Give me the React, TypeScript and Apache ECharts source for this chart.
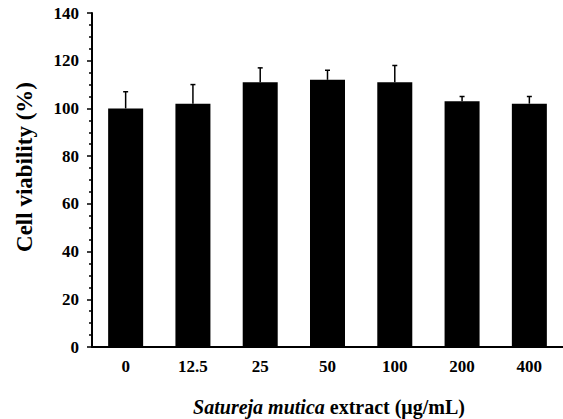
import React, { useEffect, useRef } from "react";
import * as echarts from "echarts";

const categories = ["0", "12.5", "25", "50", "100", "200", "400"];
const viability = [100, 102, 111, 112, 111, 103, 102];
const errors = [7, 8, 6, 4, 7, 2, 3];
const yTicks = { min: 0, max: 140, interval: 20 };

const FONT = "'Liberation Serif', 'Times New Roman', serif";

export default function App() {
  const ref = useRef<HTMLDivElement>(null);
  useEffect(() => {
    if (!ref.current) return;
    const chart = echarts.init(ref.current, null, { renderer: "svg" });
    const errData = viability.map((v, i) => [i, v, v + errors[i]]);
    chart.setOption({
      animation: false,
      backgroundColor: "#fff",
      grid: { left: 92, top: 13, height: 334, width: 474 },
      xAxis: {
        type: "category",
        data: categories,
        boundaryGap: true,
        axisLine: { lineStyle: { color: "#000", width: 2 } },
        axisTick: { show: false },
        axisLabel: {
          color: "#000",
          fontFamily: FONT,
          fontWeight: "bold",
          fontSize: 17,
          margin: 11,
        },
        splitLine: { show: false },
      },
      yAxis: {
        type: "value",
        min: yTicks.min,
        max: yTicks.max,
        interval: yTicks.interval,
        axisLine: { show: true, lineStyle: { color: "#000", width: 2 } },
        axisTick: { show: true, length: 5, lineStyle: { color: "#000", width: 1.5 } },
        minorTick: { show: true, splitNumber: 4, length: 3, lineStyle: { color: "#000", width: 1.5 } },
        axisLabel: {
          color: "#000",
          fontFamily: FONT,
          fontWeight: "bold",
          fontSize: 17,
          margin: 13,
        },
        splitLine: { show: false },
      },
      graphic: [
        {
          type: "text",
          x: 24,
          y: 167,
          rotation: Math.PI / 2,
          style: {
            text: "Cell viability (%)",
            fontFamily: FONT,
            fontWeight: "bold",
            fontSize: 23,
            fill: "#000",
            align: "center",
            verticalAlign: "middle",
          },
        },
        {
          type: "text",
          x: 329,
          y: 407,
          style: {
            text: "{i|Satureja mutica} {b|extract (μg/mL)}",
            align: "center",
            verticalAlign: "middle",
            rich: {
              i: { fontFamily: FONT, fontWeight: "bold", fontStyle: "italic", fontSize: 20, fill: "#000" },
              b: { fontFamily: FONT, fontWeight: "bold", fontSize: 20, fill: "#000" },
            },
            fontFamily: FONT,
            fontWeight: "bold",
            fontSize: 20,
            fill: "#000",
          },
        },
      ],
      series: [
        {
          type: "bar",
          data: viability,
          barWidth: 35,
          itemStyle: { color: "#000" },
        },
        {
          type: "custom",
          data: errData,
          z: 10,
          renderItem: (params: any, api: any) => {
            const x = api.value(0);
            const p0 = api.coord([x, api.value(1)]);
            const p1 = api.coord([x, api.value(2)]);
            const cap = 2.5;
            return {
              type: "group",
              children: [
                {
                  type: "line",
                  shape: { x1: p0[0], y1: p0[1], x2: p1[0], y2: p1[1] },
                  style: { stroke: "#000", lineWidth: 1.5 },
                },
                {
                  type: "line",
                  shape: { x1: p1[0] - cap, y1: p1[1], x2: p1[0] + cap, y2: p1[1] },
                  style: { stroke: "#000", lineWidth: 1.5 },
                },
              ],
            };
          },
        },
      ],
    });
    return () => chart.dispose();
  }, []);
  return (
    <div
      ref={ref}
      style={{ position: "fixed", left: 0, top: 0, width: 563, height: 419, background: "#fff" }}
    />
  );
}
